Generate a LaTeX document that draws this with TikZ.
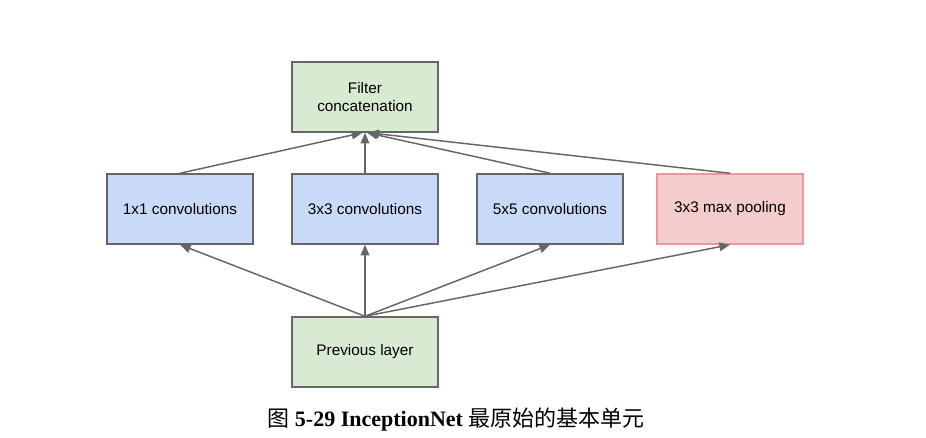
\documentclass[tikz,border=0pt]{standalone}
\usepackage{fontspec}
\setmainfont{Liberation Sans}
\newfontfamily\capfont{Liberation Serif}
\newfontfamily\cjk{Noto Sans CJK SC}
\usetikzlibrary{arrows.meta}

\definecolor{boxgreen}{RGB}{217,234,211}
\definecolor{boxblue}{RGB}{201,218,248}
\definecolor{boxpink}{RGB}{244,204,204}
\definecolor{pinkline}{RGB}{234,153,153}
\definecolor{lineg}{RGB}{102,102,102}

\tikzset{every picture/.style={line width=0.75pt}}
\tikzset{
  layerbox/.style={draw=lineg, line width=1.1pt, minimum width=109.5pt, minimum height=52.5pt,
    inner sep=0pt, align=center, font=\fontsize{11.5}{13.8}\selectfont},
  flow/.style={draw=lineg, line width=1.1pt, -{Triangle[length=8pt,width=6.5pt]}},
}

\begin{document}
\begin{tikzpicture}[x=0.75pt,y=0.75pt,yscale=-1,xscale=1]
\path (0,0) rectangle (926,438); %set diagram size

% Top block
\node [layerbox, fill=boxgreen] (concat) at (365,97) {Filter\\concatenation};
% Middle row
\node [layerbox, fill=boxblue] (conv1) at (180,209) {1x1 convolutions};
\node [layerbox, fill=boxblue] (conv3) at (365,209) {3x3 convolutions};
\node [layerbox, fill=boxblue] (conv5) at (550,209) {5x5 convolutions};
\node [layerbox, fill=boxpink, draw=pinkline] (pool) at (730,209) {3x3 max pooling};
% Bottom block
\node [layerbox, fill=boxgreen] (prev) at (365,352) {Previous layer};

% Arrows up to concatenation
\draw [flow] (conv1.north) -- ([xshift=-2pt]concat.south);
\draw [flow] (conv3.north) -- (concat.south);
\draw [flow] (conv5.north) -- ([xshift=1.5pt]concat.south);
\draw [flow] (pool.north) -- ([xshift=2.5pt]concat.south);
% Arrows from previous layer
\draw [flow] (prev.north) -- (conv1.south);
\draw [flow] (prev.north) -- (conv3.south);
\draw [flow] (prev.north) -- (conv5.south);
\draw [flow] (prev.north) -- (pool.south);

% Caption
\node (caption) at (456,420) {\capfont\bfseries\fontsize{16.5}{20}\selectfont{\cjk\mdseries 图} 5-29 InceptionNet {\cjk\mdseries 最原始的基本单元}};

\end{tikzpicture}
\end{document}
